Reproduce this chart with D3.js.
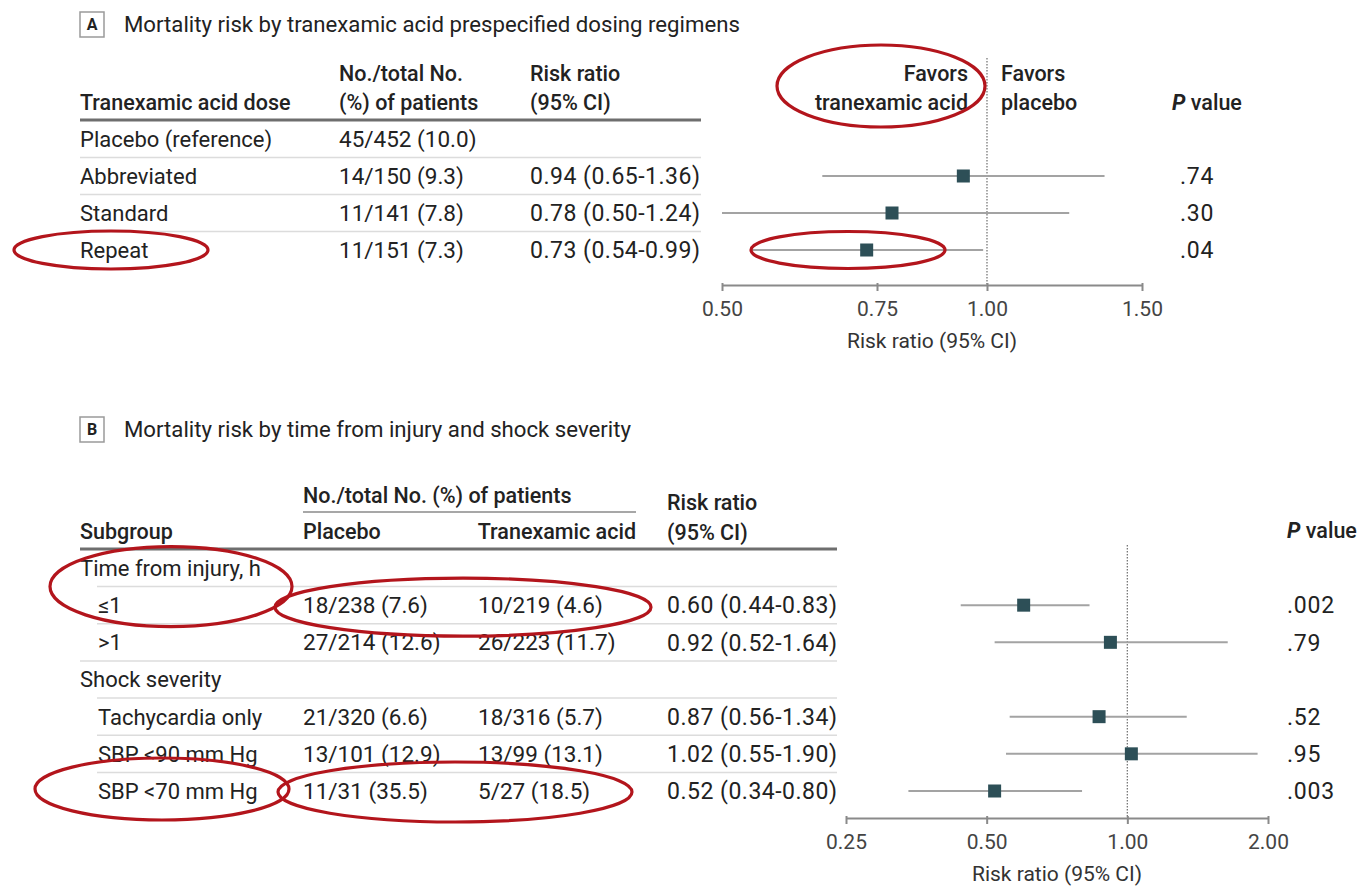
<!DOCTYPE html>
<html>
<head>
<meta charset="utf-8">
<script src="https://cdn.jsdelivr.net/npm/d3@7"></script>
<style>
  html, body { margin: 0; padding: 0; background: #fff; }
  svg { display: block; font-family: Roboto, "Liberation Sans", Arial, sans-serif; }
</style>
</head>
<body>
<svg id="chart" width="1370" height="888"></svg>
<script>
// ---- Panel A: prespecified dosing regimens ----
const doseLabels = ["Placebo (reference)", "Abbreviated", "Standard", "Repeat"];
const doseCounts = ["45/452 (10.0)", "14/150 (9.3)", "11/141 (7.8)", "11/151 (7.3)"];
const doseRR     = [null, 0.94, 0.78, 0.73];
const doseLo     = [null, 0.65, 0.50, 0.54];
const doseHi     = [null, 1.36, 1.24, 0.99];
const doseP      = ["", ".74", ".30", ".04"];
const ticksA     = [0.50, 0.75, 1.00, 1.50];

// ---- Panel B: time from injury and shock severity ----
const subLabels  = ["Time from injury, h", "≤1", ">1", "Shock severity", "Tachycardia only", "SBP <90 mm Hg", "SBP <70 mm Hg"];
const subIsGroup = [true, false, false, true, false, false, false];
const subPlacebo = ["", "18/238 (7.6)", "27/214 (12.6)", "", "21/320 (6.6)", "13/101 (12.9)", "11/31 (35.5)"];
const subTxa     = ["", "10/219 (4.6)", "26/223 (11.7)", "", "18/316 (5.7)", "13/99 (13.1)", "5/27 (18.5)"];
const subRR      = [null, 0.60, 0.92, null, 0.87, 1.02, 0.52];
const subLo      = [null, 0.44, 0.52, null, 0.56, 0.55, 0.34];
const subHi      = [null, 0.83, 1.64, null, 1.34, 1.90, 0.80];
const subP       = ["", ".002", ".79", "", ".52", ".95", ".003"];
const ticksB     = [0.25, 0.50, 1.00, 2.00];

const ink = "#222";
const fmt2 = d3.format(".2f");
const rrText = (r, l, h) => `${fmt2(r)} (${fmt2(l)}-${fmt2(h)})`;

const svg = d3.select("#chart");

function label(g, x, y, s, o = {}) {
  return g.append("text")
    .attr("x", x).attr("y", y).attr("dy", "0.36em")
    .attr("fill", o.fill || ink)
    .attr("font-size", o.size || 22)
    .attr("font-weight", o.weight || 400)
    .attr("letter-spacing", o.ls || null)
    .attr("text-anchor", o.anchor || "start")
    .text(s);
}

// text styles
const hd    = { size: 21.5, weight: 500 };
const count = { size: 22.5 };
const rrSty = { size: 23, ls: 0.5 };
const pSty  = { size: 23, ls: 0.8 };

function panelTag(g, x, y, letter, title) {
  g.append("rect").attr("x", x).attr("y", y).attr("width", 24).attr("height", 25)
    .attr("fill", "#fff").attr("stroke", "#9a9a9a").attr("stroke-width", 1.5);
  label(g, x + 12, y + 12.5, letter, { size: 16, weight: 700, anchor: "middle" });
  label(g, x + 44, y + 12.5, title, { size: 22.2 });
}

function forest(g, x, y, rows, rr, lo, hi) {
  const r = rows.filter(i => rr[i] != null);
  g.selectAll("line.ci").data(r).join("line").attr("class", "ci")
    .attr("x1", i => x(lo[i])).attr("x2", i => x(hi[i]))
    .attr("y1", i => y(i)).attr("y2", i => y(i))
    .attr("stroke", "#a3a3a3").attr("stroke-width", 2);
  g.selectAll("rect.pt").data(r).join("rect").attr("class", "pt")
    .attr("x", i => x(rr[i]) - 6.5).attr("y", i => y(i) - 6.5)
    .attr("width", 13).attr("height", 13)
    .attr("fill", "#2d4f57");
}

function axis(g, x, y0, ticks, title) {
  const ax = g.append("g").attr("transform", `translate(0,${y0})`)
    .call(d3.axisBottom(x).tickValues(ticks).tickFormat(fmt2)
      .tickSize(6).tickSizeOuter(0).tickPadding(10));
  ax.select(".domain").attr("stroke", "#8a8a8a").attr("stroke-width", 2);
  ax.selectAll(".tick line").attr("stroke", "#8a8a8a").attr("stroke-width", 2).attr("y1", -2);
  ax.selectAll(".tick text").attr("fill", "#444").attr("font-size", 21)
    .attr("font-family", "Roboto, 'Liberation Sans', Arial, sans-serif");
  const [a, b] = x.range();
  label(g, (a + b) / 2, y0 + 55, title, { size: 21, anchor: "middle", fill: "#333" });
}

function refLine(g, x, yTop, yBot) {
  g.append("line").attr("x1", x).attr("x2", x).attr("y1", yTop).attr("y2", yBot)
    .attr("stroke", "#777").attr("stroke-width", 1.3).attr("stroke-dasharray", "1.5,1.5");
}

function pHeader(g, x, y) {
  const t = label(g, x, y, "", hd);
  t.append("tspan").attr("font-style", "italic").attr("font-weight", 700).text("P");
  t.append("tspan").text(" value");
}

// ================= Panel A =================
const gA = svg.append("g");
panelTag(gA, 80, 12, "A", "Mortality risk by tranexamic acid prespecified dosing regimens");

const rowsA = d3.range(doseLabels.length);
const yA = d3.scaleLinear().domain([0, doseLabels.length - 1]).range([139, 250]);
const xA = d3.scaleLog().domain(d3.extent(ticksA)).range([722, 1142]);

label(gA, 339, 73, "No./total No.", hd);
label(gA, 339, 102, "(%) of patients", hd);
label(gA, 80, 102, "Tranexamic acid dose", hd);
label(gA, 530, 73, "Risk ratio", hd);
label(gA, 530, 102, "(95% CI)", hd);
label(gA, 968, 73, "Favors", { ...hd, anchor: "end" });
label(gA, 968, 102, "tranexamic acid", { ...hd, anchor: "end" });
label(gA, 1001, 73, "Favors", hd);
label(gA, 1001, 102, "placebo", hd);
pHeader(gA, 1172, 102);

gA.append("line").attr("x1", 80).attr("x2", 701).attr("y1", 120).attr("y2", 120)
  .attr("stroke", "#6e6e6e").attr("stroke-width", 3);
gA.selectAll("line.sep").data(rowsA.slice(0, -1)).join("line").attr("class", "sep")
  .attr("x1", 80).attr("x2", 701)
  .attr("y1", i => (yA(i) + yA(i + 1)) / 2).attr("y2", i => (yA(i) + yA(i + 1)) / 2)
  .attr("stroke", "#dcdcdc").attr("stroke-width", 1.5);

rowsA.forEach(i => {
  label(gA, 80, yA(i), doseLabels[i]);
  label(gA, 339, yA(i), doseCounts[i], count);
  if (doseRR[i] != null) label(gA, 530, yA(i), rrText(doseRR[i], doseLo[i], doseHi[i]), rrSty);
  label(gA, 1180, yA(i), doseP[i], pSty);
});

refLine(gA, xA(1), 58, 285);
forest(gA, xA, yA, rowsA, doseRR, doseLo, doseHi);
axis(gA, xA, 285, ticksA, "Risk ratio (95% CI)");

// ================= Panel B =================
const gB = svg.append("g");
panelTag(gB, 80, 417, "B", "Mortality risk by time from injury and shock severity");

const rowsB = d3.range(subLabels.length);
const yB = d3.scaleLinear().domain([0, subLabels.length - 1]).range([568, 791]);
const xB = d3.scaleLog().domain(d3.extent(ticksB)).range([846, 1268]);

label(gB, 303, 495, "No./total No. (%) of patients", hd);
gB.append("line").attr("x1", 303).attr("x2", 636).attr("y1", 512).attr("y2", 512)
  .attr("stroke", "#8a8a8a").attr("stroke-width", 1.5);
label(gB, 80, 531, "Subgroup", hd);
label(gB, 303, 531, "Placebo", hd);
label(gB, 636, 531, "Tranexamic acid", { ...hd, anchor: "end" });
label(gB, 667, 502, "Risk ratio", hd);
label(gB, 667, 532, "(95% CI)", hd);
pHeader(gB, 1287, 530);

gB.append("line").attr("x1", 80).attr("x2", 837).attr("y1", 549).attr("y2", 549)
  .attr("stroke", "#6e6e6e").attr("stroke-width", 3);
// separators: full width before a new group, indented inside a group
gB.selectAll("line.sep").data(rowsB.slice(0, -1)).join("line").attr("class", "sep")
  .attr("x1", i => subIsGroup[i + 1] ? 80 : 97).attr("x2", 837)
  .attr("y1", i => (yB(i) + yB(i + 1)) / 2).attr("y2", i => (yB(i) + yB(i + 1)) / 2)
  .attr("stroke", "#dcdcdc").attr("stroke-width", 1.5);

rowsB.forEach(i => {
  label(gB, subIsGroup[i] ? 80 : 98, yB(i), subLabels[i]);
  label(gB, 303, yB(i), subPlacebo[i], count);
  label(gB, 478, yB(i), subTxa[i], count);
  if (subRR[i] != null) label(gB, 667, yB(i), rrText(subRR[i], subLo[i], subHi[i]), rrSty);
  label(gB, 1287, yB(i), subP[i], pSty);
});

refLine(gB, xB(1), 545, 818);
forest(gB, xB, yB, rowsB, subRR, subLo, subHi);
axis(gB, xB, 818, ticksB, "Risk ratio (95% CI)");

// ================= Highlight rings =================
const ring = (cx, cy, rx, ry) => svg.append("ellipse")
  .attr("cx", cx).attr("cy", cy).attr("rx", rx).attr("ry", ry)
  .attr("fill", "none").attr("stroke", "#b3151c").attr("stroke-width", 3.2);

ring(881, 86, 104, 41);                       // Favors tranexamic acid
ring(111, yA(3), 97, 19);                     // Repeat
ring(848, yA(3), 97, 18.5);                   // Repeat estimate
ring(171, (yB(0) + yB(1)) / 2, 121, 40);      // Time from injury, <=1
ring(463, yB(1) + 2, 188, 29);                // <=1 counts
ring(162, yB(6) - 2, 127, 31);                // SBP <70
ring(455, yB(6) + 1, 177, 30);                // SBP <70 counts
</script>
</body>
</html>
